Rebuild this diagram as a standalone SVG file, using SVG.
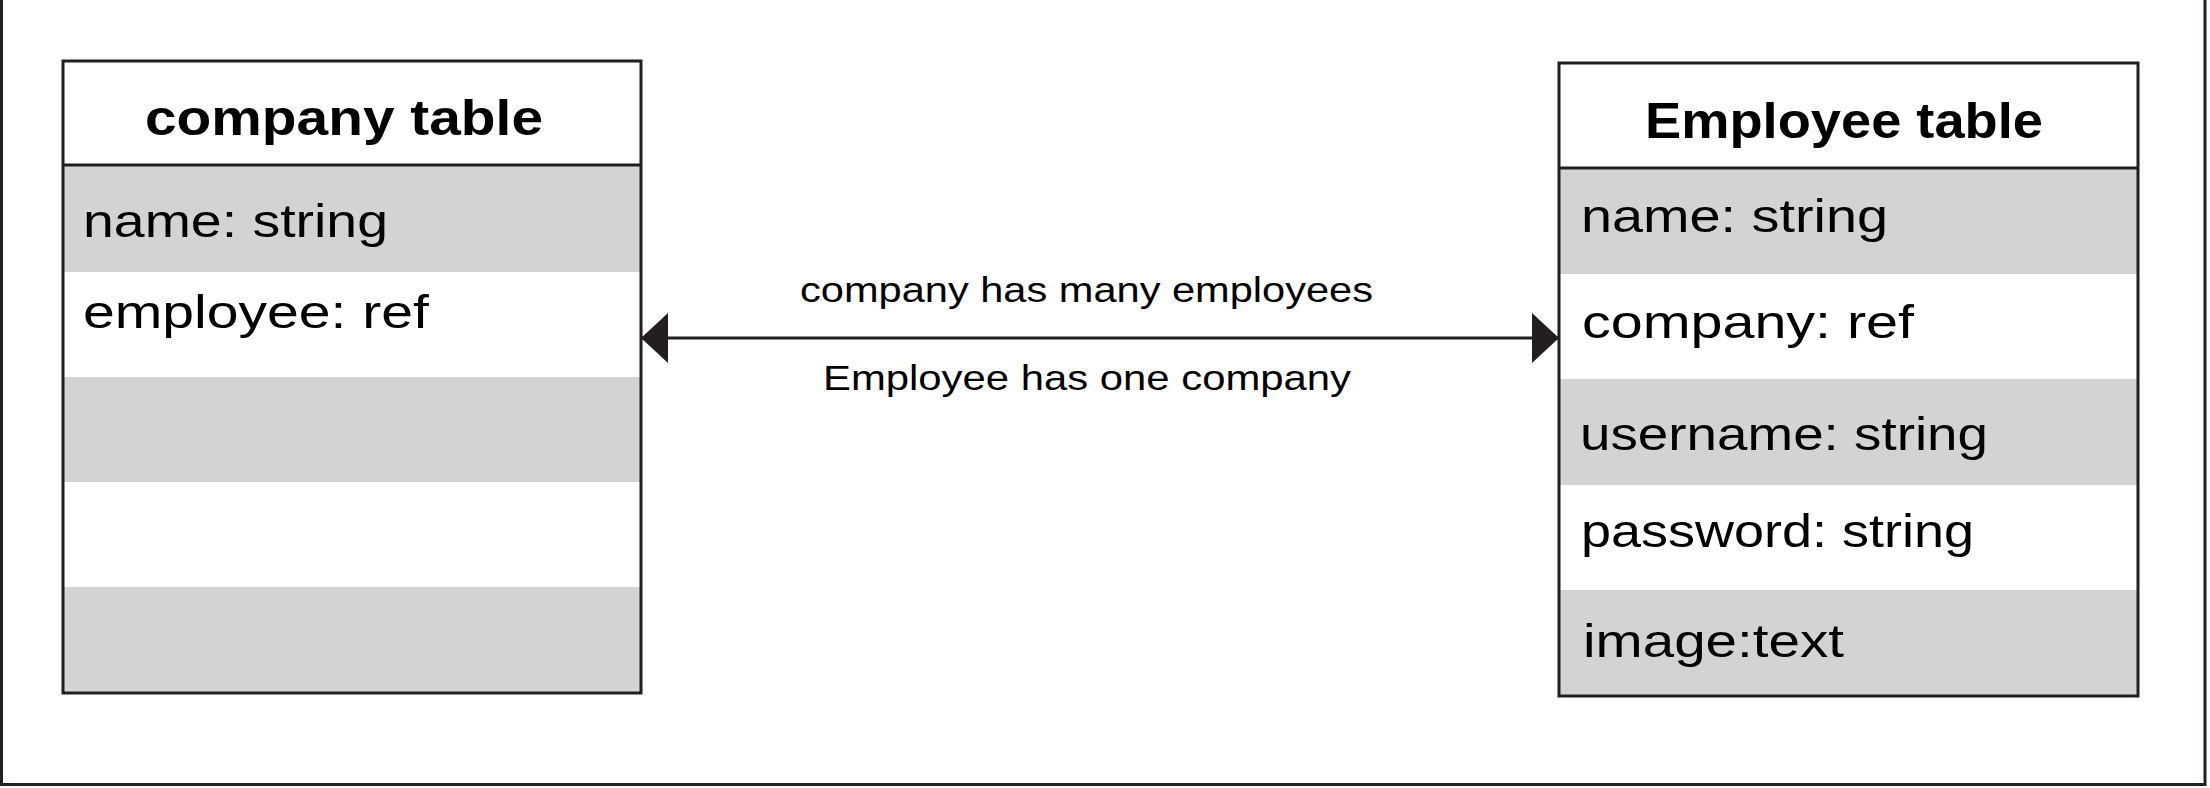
<svg xmlns="http://www.w3.org/2000/svg" width="2210" height="788" viewBox="0 0 2210 788">
<style>
.frame{fill:none;stroke:#231f20;stroke-width:3}
.box{fill:none;stroke:#231f20;stroke-width:3}
.gray{fill:#d1d3d4}
.white{fill:#ffffff}
.head{font-family:"Liberation Sans",Arial,sans-serif;font-weight:bold;font-size:50px;fill:#000}
.field{font-family:"Liberation Sans",Arial,sans-serif;font-size:46px;fill:#000}
.lbl{font-family:"Liberation Sans",Arial,sans-serif;font-size:35px;fill:#000}
.conn{stroke:#231f20;stroke-width:3;fill:none}
</style>
<defs>
<marker id="arr" markerUnits="userSpaceOnUse" markerWidth="27" markerHeight="50" refX="27" refY="25" orient="auto-start-reverse" viewBox="0 0 27 50">
<path d="M0,0 L27,25 L0,50 Z" fill="#231f20"/>
</marker>
</defs>
<rect width="2210" height="788" fill="#ffffff"/>
<rect class="frame" x="1.5" y="-10" width="2203.5" height="794.5"/>
<g id="company-table">
<rect class="white" x="63" y="61" width="578" height="104"/>
<rect class="gray" x="63" y="165" width="578" height="107"/>
<rect class="white" x="63" y="272" width="578" height="105"/>
<rect class="gray" x="63" y="377" width="578" height="105"/>
<rect class="white" x="63" y="482" width="578" height="105"/>
<rect class="gray" x="63" y="587" width="578" height="106"/>
<rect class="box" x="63" y="61" width="578" height="632"/>
<line class="box" x1="63" y1="165" x2="641" y2="165"/>
<text class="head" x="145" y="135" textLength="398" lengthAdjust="spacingAndGlyphs">company table</text>
<text class="field" x="83" y="237" textLength="305" lengthAdjust="spacingAndGlyphs">name: string</text>
<text class="field" x="83" y="328" textLength="346" lengthAdjust="spacingAndGlyphs">employee: ref</text>
</g>
<g id="employee-table">
<rect class="white" x="1559" y="63" width="579" height="105"/>
<rect class="gray" x="1559" y="168" width="579" height="106"/>
<rect class="white" x="1559" y="274" width="579" height="105"/>
<rect class="gray" x="1559" y="379" width="579" height="106"/>
<rect class="white" x="1559" y="485" width="579" height="105"/>
<rect class="gray" x="1559" y="590" width="579" height="106"/>
<rect class="box" x="1559" y="63" width="579" height="633"/>
<line class="box" x1="1559" y1="168" x2="2138" y2="168"/>
<text class="head" x="1645" y="138" textLength="398" lengthAdjust="spacingAndGlyphs">Employee table</text>
<text class="field" x="1581" y="232" textLength="307" lengthAdjust="spacingAndGlyphs">name: string</text>
<text class="field" x="1582" y="338" textLength="332" lengthAdjust="spacingAndGlyphs">company: ref</text>
<text class="field" x="1580" y="450" textLength="408" lengthAdjust="spacingAndGlyphs">username: string</text>
<text class="field" x="1581" y="547" textLength="393" lengthAdjust="spacingAndGlyphs">password: string</text>
<text class="field" x="1583" y="657" textLength="261" lengthAdjust="spacingAndGlyphs">image:text</text>
</g>
<g id="connectors">
<line class="conn" x1="641" y1="338" x2="1559" y2="338" marker-start="url(#arr)" marker-end="url(#arr)"/>
<text class="lbl" x="800" y="302" textLength="573" lengthAdjust="spacingAndGlyphs">company has many employees</text>
<text class="lbl" x="823" y="390" textLength="528" lengthAdjust="spacingAndGlyphs">Employee has one company</text>
</g>
</svg>
